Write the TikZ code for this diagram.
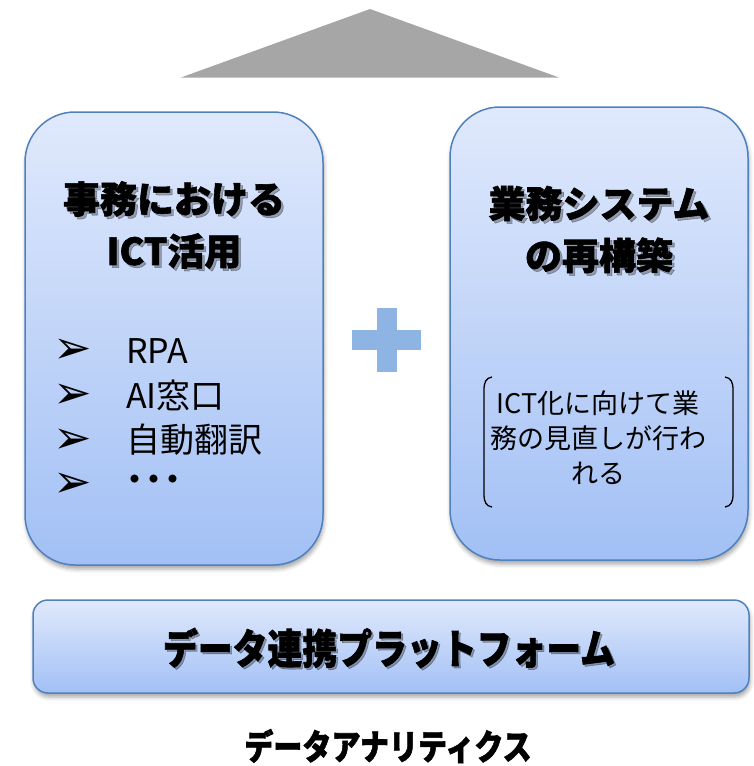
\documentclass[tikz,border=0pt]{standalone}
\usepackage{fontspec}
\newfontfamily\jp{Noto Sans CJK JP}
\newfontfamily\jpheavy{Noto Sans CJK JP}[UprightFeatures={FakeBold=0}, BoldFeatures={FakeBold=1.6}]
\newfontfamily\djv{DejaVu Sans}
\usetikzlibrary{shadows.blur}
\definecolor{boxtop}{RGB}{224,233,252}
\definecolor{boxbot}{RGB}{162,192,245}
\definecolor{boxline}{RGB}{79,129,189}
\definecolor{tri}{RGB}{166,166,166}
\definecolor{plusc}{RGB}{142,180,227}
\begin{document}
\begin{tikzpicture}[x=1pt,y=-1pt,
  panel/.style={draw=boxline, line width=1.5pt, top color=boxtop, bottom color=boxbot,
    blur shadow={shadow xshift=1pt, shadow yshift=-4pt, shadow blur radius=4pt, shadow opacity=35}},
  title/.style={font=\jpheavy\bfseries\fontsize{37}{52}\selectfont, align=center, inner sep=0pt},
  tshadow/.style={title, text=black, opacity=0.3},
  item/.style={font=\jp\fontsize{34}{40}\selectfont, anchor=west, inner sep=0pt},
  bul/.style={font=\djv\fontsize{46}{48}\selectfont, inner sep=0pt},
  note/.style={font=\jp\fontsize{27}{35}\selectfont, align=center, inner sep=0pt},
  bracket/.style={line width=1.3pt, black},
  condensed/.style={font=\jpheavy\bfseries, inner sep=0pt}
]
\useasboundingbox (0,0) rectangle (754,766);
% top triangle
\fill[tri] (370,9) -- (559,77.5) -- (181,77.5) -- cycle;
% panels
\node[panel, rounded corners=50pt, minimum width=298pt, minimum height=453pt] (left) at (174,338.5) {};
\node[panel, rounded corners=50pt, minimum width=298pt, minimum height=453pt] (right) at (599,333.5) {};
\node[panel, rounded corners=15pt, minimum width=716pt, minimum height=93pt] (bottom) at (391,646.5) {};
% plus
\fill[plusc] (352,330) rectangle (421,350);
\fill[plusc] (377,308) rectangle (397,372);
% left title
\node[tshadow] (lts) at (176.5,227.5) {事務における\\ICT活用};
\node[title] (lt) at (174,225) {事務における\\ICT活用};
% bullets
\node[bul] (b1) at (73,351) {➢};
\node[bul] (b2) at (73,396) {➢};
\node[bul] (b3) at (73,441) {➢};
\node[bul] (b4) at (73,485) {➢};
\node[item] (i1) at (126,351) {RPA};
\node[item] (i2) at (126,395) {AI窓口};
\node[item] (i3) at (126,440) {自動翻訳};
\node[item, font=\jp\bfseries\fontsize{38}{40}\selectfont] (i4) at (125,484) {･･･};
% right title
\node[tshadow] (rts) at (601.5,232) {業務システム\\の再構築};
\node[title] (rt) at (599,229.5) {業務システム\\の再構築};
% bracketed note
\node[note] (nt) at (598,438) {ICT化に向けて業\\務の見直しが行わ\\れる};
\coordinate (lb1) at (492,377);
\coordinate (lb2) at (492,507);
\coordinate (rb1) at (725,377);
\coordinate (rb2) at (725,507);
\draw[bracket] (lb1) .. controls (486,378) and (484,382) .. (484,390) -- (484,494) .. controls (484,502) and (486,506) .. (lb2);
\draw[bracket] (rb1) .. controls (731,378) and (733,382) .. (733,390) -- (733,494) .. controls (733,502) and (731,506) .. (rb2);
% bottom texts
\node[condensed, text=black, opacity=0.3, xscale=0.85, font=\jpheavy\bfseries\fontsize{41}{45}\selectfont] (bts) at (391,650) {データ連携プラットフォーム};
\node[condensed, xscale=0.85, font=\jpheavy\bfseries\fontsize{41}{45}\selectfont] (bt) at (389,648) {データ連携プラットフォーム};
\node[condensed, xscale=0.83, font=\jpheavy\bfseries\fontsize{35}{40}\selectfont] (da) at (388,746) {データアナリティクス};
\end{tikzpicture}
\end{document}
